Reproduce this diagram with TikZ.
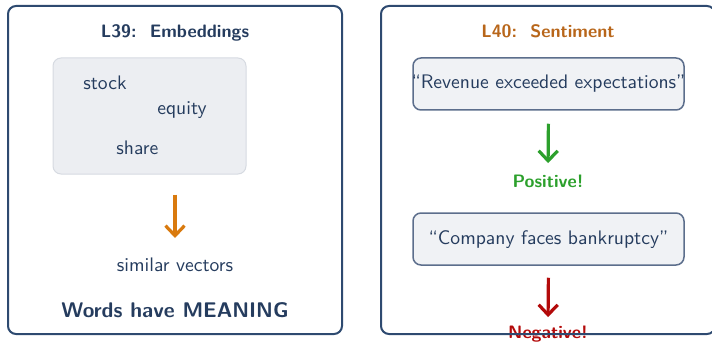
\documentclass[tikz,border=0pt]{standalone}
\renewcommand{\familydefault}{\sfdefault}
\usetikzlibrary{arrows.meta}

\definecolor{navy}{HTML}{253C5E}
\definecolor{framecol}{HTML}{2E4A70}
\definecolor{cloudfill}{HTML}{ECEEF2}
\definecolor{clouddraw}{HTML}{D6DAE1}
\definecolor{boxfill}{HTML}{F0F2F5}
\definecolor{boxdraw}{HTML}{5C6E8C}
\definecolor{orangearrow}{HTML}{D97A0E}
\definecolor{orangetitle}{HTML}{B8661A}
\definecolor{posgreen}{HTML}{2CA02C}
\definecolor{negred}{HTML}{B30A0A}

\tikzset{
  panel/.style={draw=framecol, line width=1pt, rounded corners=4pt},
  cloud/.style={draw=clouddraw, fill=cloudfill, line width=0.5pt, rounded corners=4pt,
    minimum width=96.5pt, minimum height=58pt, inner sep=0pt},
  quotebox/.style={draw=boxdraw, fill=boxfill, line width=0.75pt, rounded corners=4pt,
    minimum width=135.5pt, minimum height=26pt, inner sep=0pt},
  txt/.style={inner sep=0pt, text=navy, font=\sffamily\fontsize{9.8}{11.5}\selectfont},
  ttl/.style={inner sep=0pt, font=\sffamily\fontsize{9}{11}\selectfont\bfseries},
  bigttl/.style={inner sep=0pt, text=navy, font=\sffamily\fontsize{10.6}{13}\selectfont\bfseries},
  flow/.style={line width=1.6pt, -{Straight Barb[length=5pt, width=9.5pt]}},
}

\begin{document}
\begin{tikzpicture}[x=0.5pt, y=-0.5pt]
\useasboundingbox (0,0) rectangle (712,342);
\clip (0,0) rectangle (712,342);

% ---- left panel: embeddings ----
\node[ttl, text=navy, anchor=base] (t39) at (175,38) {L39:\ \ Embeddings};
\node[cloud] (cloud) at (149.5,116) {};
\node[txt, anchor=base west] (w1) at (83,90) {stock};
\node[txt, anchor=base west] (w2) at (157,115) {equity};
\node[txt, anchor=base west] (w3) at (116,155) {share};
\node[txt, anchor=base] (sim) at (175,271) {similar vectors};
\node[bigttl, anchor=base] (mean) at (175,317) {Words have MEANING};
\draw[flow, orangearrow, shorten <=10pt, shorten >=9.5pt] (sim.north |- cloud.south) -- (sim.north);

% ---- right panel: sentiment ----
\node[ttl, text=orangetitle, anchor=base] (t40) at (548,38) {L40:\ \ Sentiment};
\node[quotebox] (q1) at (548.5,84) {};
\node[txt, anchor=base] (q1t) at (548.5,89) {``Revenue exceeded expectations''};
\node[ttl, text=posgreen, anchor=base] (pos) at (548,187) {Positive!};
\node[quotebox] (q2) at (548.5,239) {};
\node[txt, anchor=base] (q2t) at (548.5,244) {``Company faces bankruptcy''};
\node[ttl, text=negred, anchor=base] (neg) at (548,338) {Negative!};
\draw[flow, posgreen, shorten <=6.5pt, shorten >=5.5pt] (q1.south) -- (pos.north);
\draw[flow, negred, shorten <=6pt, shorten >=4pt] (q2.south) -- (neg.north);

% ---- panel frames, drawn last so they sit over the labels ----
\draw[panel] (8,6) rectangle (342,334);
\draw[panel] (381,6) rectangle (715,334);
\end{tikzpicture}
\end{document}
